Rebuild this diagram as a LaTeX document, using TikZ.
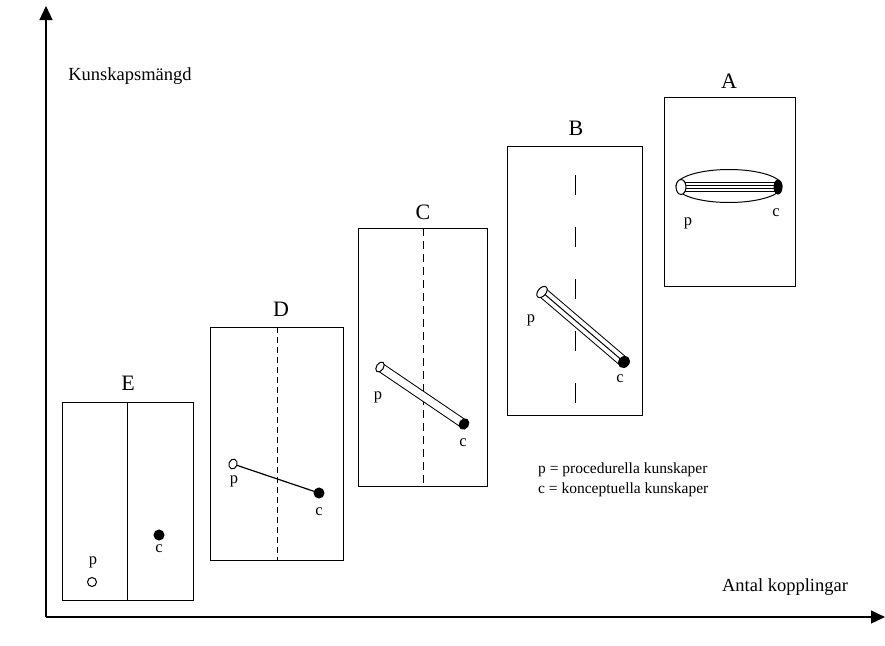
\documentclass[tikz,border=0pt]{standalone}
\usepackage{fontspec}
\setmainfont{Liberation Serif}
\usetikzlibrary{arrows.meta,shapes.geometric}

\tikzset{
  axis/.style={line width=1.2pt, -{Triangle[length=14pt,width=13pt]}},
  panel/.style={draw, line width=1pt},
  divider/.style={line width=1pt},
  title/.style={font=\fontsize{22}{24}\selectfont, inner sep=0pt},
  pclabel/.style={font=\fontsize{16.5}{18}\selectfont, inner sep=0pt},
  axislabel/.style={font=\fontsize{18.5}{21}\selectfont, inner sep=0pt},
  legend/.style={font=\fontsize{15.5}{18}\selectfont, inner sep=0pt, anchor=west},
  openend/.style={draw, fill=white, ellipse, line width=1pt, inner sep=0pt},
  fullend/.style={draw, fill=black, ellipse, line width=1pt, inner sep=0pt},
  tube/.style={line width=1pt, double=white},
}

\begin{document}
\begin{tikzpicture}[x=1pt, y=-1pt]
  \useasboundingbox (0,0) rectangle (885,645);

  % axes
  \coordinate (origin) at (46,617);
  \coordinate (ytip) at (46,6);
  \coordinate (xtip) at (885,617);
  \draw[axis] (origin) -- (ytip);
  \draw[axis] (origin) -- (xtip);
  \node[axislabel] (ylabel) at (130,76) {Kunskapsmängd};
  \node[axislabel] (xlabel) at (785,587) {Antal kopplingar};

  % legend
  \node[legend] (legp) at (538,470) {p = procedurella kunskaper};
  \node[legend] (legc) at (538,490) {c = konceptuella kunskaper};

  % ---- panel E ----
  \draw[panel] (62,402) rectangle (193,600);
  \coordinate (eTop) at (127,402);
  \coordinate (eBot) at (127,600);
  \draw[divider] (eTop) -- (eBot);
  \node[title] (tE) at (128,383) {E};
  \node[openend, minimum width=9pt, minimum height=9pt] (eP) at (92,582) {};
  \node[fullend, minimum width=10pt, minimum height=10pt] (eC) at (159,535) {};
  \node[pclabel] (eLp) at (93,562) {p};
  \node[pclabel] (eLc) at (159,549) {c};

  % ---- panel D ----
  \draw[panel] (210,327) rectangle (343,560);
  \coordinate (dTop) at (277,327);
  \coordinate (dBot) at (277,560);
  \draw[divider, dash pattern=on 6pt off 4pt] (dTop) -- (dBot);
  \node[title] (tD) at (281,309) {D};
  \coordinate (d1) at (233,464);
  \coordinate (d2) at (319,493);
  \draw[line width=1.2pt] (d1) -- (d2);
  \node[openend, rotate=-18.6, minimum width=8pt, minimum height=10pt] (dP) at (d1) {};
  \node[fullend, minimum width=10pt, minimum height=10pt] (dC) at (d2) {};
  \node[pclabel] (dLp) at (234,481) {p};
  \node[pclabel] (dLc) at (319,512) {c};

  % ---- panel C ----
  \draw[panel] (358,228) rectangle (487,486);
  \coordinate (cTop) at (423,228);
  \coordinate (cBot) at (423,486);
  \draw[divider, dash pattern=on 8pt off 5pt] (cTop) -- (cBot);
  \node[title] (tC) at (423,212) {C};
  \coordinate (c1) at (380,367);
  \coordinate (c2) at (464,424);
  \draw[tube, double distance=7.5pt] (c1) -- (c2);
  \node[openend, rotate=-34.2, minimum width=7pt, minimum height=11pt] (cP) at (c1) {};
  \node[fullend, rotate=-34.2, minimum width=9pt, minimum height=11pt] (cC) at (c2) {};
  \node[pclabel] (cLp) at (378,397) {p};
  \node[pclabel] (cLc) at (463,443) {c};

  % ---- panel B ----
  \draw[panel] (507,146) rectangle (642,415);
  \coordinate (bTop) at (575,175);
  \coordinate (bBot) at (575,405);
  \draw[divider, dash pattern=on 20pt off 32pt] (bTop) -- (bBot);
  \node[title] (tB) at (576,128) {B};
  \coordinate (b1) at (542,292);
  \coordinate (b2) at (624,362);
  \draw[tube, double distance=9pt] (b1) -- (b2);
  \draw[line width=1pt] (b1) -- (b2);
  \node[openend, rotate=-40.5, minimum width=8pt, minimum height=13pt] (bP) at (b1) {};
  \node[fullend, rotate=-40.5, minimum width=10pt, minimum height=12pt] (bC) at (b2) {};
  \node[pclabel] (bLp) at (531,320) {p};
  \node[pclabel] (bLc) at (620,379) {c};

  % ---- panel A ----
  \draw[panel] (664,97) rectangle (795,286);
  \node[title] (tA) at (729,81) {A};
  \node[draw, ellipse, line width=1pt, minimum width=106pt, minimum height=33pt, inner sep=0pt] (aShell) at (729,186) {};
  \coordinate (a1) at (681,187);
  \coordinate (a2) at (778,187);
  \draw[tube, double distance=8.5pt] (a1) -- (a2);
  \draw[tube, line width=0.9pt, double distance=1.6pt] (a1) -- (a2);
  \node[openend, minimum width=10pt, minimum height=15pt] (aP) at (a1) {};
  \node[fullend, minimum width=8pt, minimum height=14pt] (aC) at (a2) {};
  \node[pclabel] (aLp) at (688,223) {p};
  \node[pclabel] (aLc) at (776,213) {c};
\end{tikzpicture}
\end{document}
